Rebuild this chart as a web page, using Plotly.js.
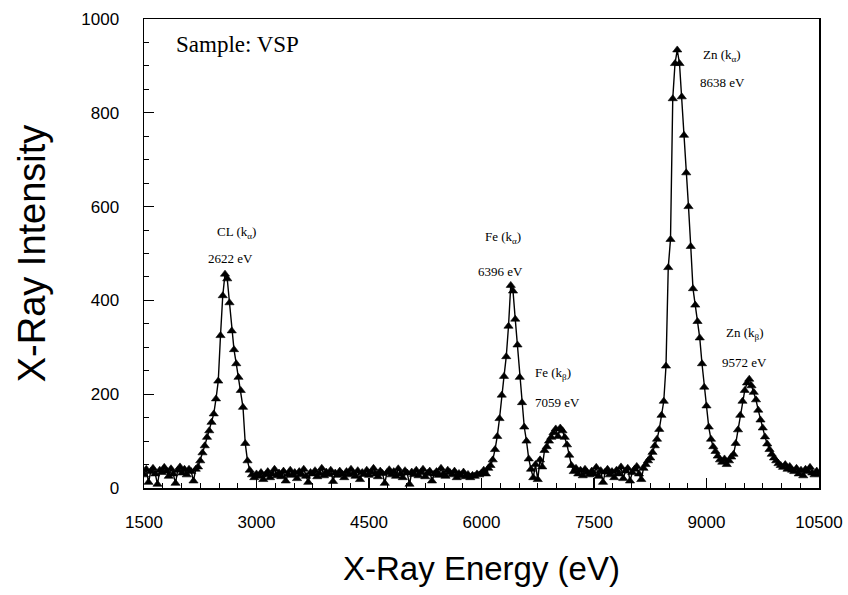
<!DOCTYPE html>
<html>
<head>
<meta charset="utf-8">
<script src="https://cdn.plot.ly/plotly-3.0.1.min.js"></script>
<style>html,body{margin:0;padding:0;background:#fff;}#chart{width:848px;height:595px;}</style>
</head>
<body>
<div id="chart"></div>
<script>
// Channel energies: first channel and channel width (eV)
const channelStart = 1500;
const channelWidth = 30;

// X-ray intensity per channel (1500 ... 10500 eV)
const intensity = [
  28, 40, 12, 35, 42, 30, 8, 38, 33, 44,
  36, 25, 41, 30, 10, 38, 45, 32, 40, 28,
  40, 35, 15, 40, 45, 58, 75, 90, 108, 122,
  140, 158, 190, 228, 325, 410, 456, 446, 395, 335,
  295, 265, 236, 208, 172, 95, 58, 38, 28, 22,
  30, 25, 33, 18, 28, 35, 22, 30, 40, 26,
  32, 24, 36, 15, 29, 38, 27, 33, 20, 35,
  28, 40, 25, 12, 33, 30, 37, 24, 31, 42,
  26, 34, 29, 38, 14, 32, 27, 36, 30, 22,
  35, 28, 40, 31, 25, 37, 18, 33, 29, 38,
  27, 34, 42, 30, 24, 36, 31, 10, 33, 39,
  28, 35, 25, 41, 30, 22, 37, 32, 8, 34,
  29, 38, 26, 33, 40, 24, 31, 36, 15, 30,
  35, 27, 42, 30, 25, 38, 33, 28, 36, 22,
  31, 26, 34, 24, 29, 22, 27, 25, 30, 28,
  32, 38, 30, 42, 48, 60, 82, 110, 148, 198,
  238, 280, 345, 432, 420, 360, 305, 236, 182, 130,
  100, 62, 40, 22, 50, 18, 60, 45, 80, 88,
  100, 108, 118, 126, 110, 128, 122, 108, 92, 70,
  48, 35, 42, 30, 38, 26, 40, 33, 28, 36,
  30, 44, 25, 37, 12, 34, 40, 28, 35, 22,
  38, 30, 45, 20, 36, 42, 15, 33, 40, 46,
  30, 18, 42, 50, 58, 64, 76, 90, 104, 125,
  155, 185, 260, 470, 530, 830, 905, 934, 905, 834,
  752, 672, 600, 515, 425, 390, 355, 320, 265, 215,
  175, 130, 104, 88, 78, 68, 60, 55, 62, 50,
  58, 66, 72, 95, 124, 155, 185, 208, 224, 232,
  218, 204, 188, 166, 145, 128, 109, 94, 82, 72,
  64, 58, 52, 48, 44, 50, 40, 46, 38, 35,
  42, 30, 38, 26, 40, 35, 44, 32, 28, 36, 30
];
const energy = intensity.map((_, i) => channelStart + i * channelWidth);

// Axis ticks
const xTickVals = [1500, 3000, 4500, 6000, 7500, 9000, 10500];
const xTickText = ['1500', '3000', '4500', '6000', '7500', '9000', '10500'];
const yTickVals = [0, 200, 400, 600, 800, 1000];

// Peak labels
const labelNames = ['CL (k<sub>α</sub>)', 'Fe (k<sub>α</sub>)', 'Fe (k<sub>β</sub>)', 'Zn (k<sub>α</sub>)', 'Zn (k<sub>β</sub>)'];
const labelEnergies = ['2622 eV', '6396 eV', '7059 eV', '8638 eV', '9572 eV'];
const nameX = [2727, 6287, 6953, 9207, 9513];
const nameY = [544, 535, 245, 923, 330];
const valueX = [2647, 6247, 7007, 9207, 9513];
const valueY = [490, 461, 183, 864, 267];

const serif = 'Liberation Serif, DejaVu Serif, serif';
const sans = 'Liberation Sans, Arial, sans-serif';

const annotations = [];
labelNames.forEach((t, i) => {
  annotations.push({x: nameX[i], y: nameY[i], xref: 'x', yref: 'y', text: t, showarrow: false,
    font: {family: serif, size: 13, color: '#000'}});
  annotations.push({x: valueX[i], y: valueY[i], xref: 'x', yref: 'y', text: labelEnergies[i], showarrow: false,
    font: {family: serif, size: 13, color: '#000'}});
});
annotations.push({x: 2740, y: 945, xref: 'x', yref: 'y', text: 'Sample: VSP', showarrow: false,
  font: {family: serif, size: 23, color: '#000'}});

const trace = {
  x: energy, y: intensity, type: 'scatter', mode: 'lines+markers',
  line: {color: '#000', width: 1.4},
  marker: {symbol: 'triangle-up', size: 8, color: '#000', line: {color: '#000', width: 0.6}},
  showlegend: false, cliponaxis: true
};

const layout = {
  width: 848, height: 595,
  margin: {l: 144, r: 29, t: 19, b: 107},
  paper_bgcolor: '#fff', plot_bgcolor: '#fff',
  font: {family: sans, color: '#000'},
  xaxis: {
    range: [1500, 10500], tickvals: xTickVals, ticktext: xTickText,
    ticks: 'inside', ticklen: 10, tickwidth: 1.2, tickcolor: '#000',
    minor: {dtick: 250, tick0: 1500, ticks: 'inside', ticklen: 5, tickwidth: 1, tickcolor: '#000', showgrid: false},
    showgrid: false, zeroline: false, showline: true, linecolor: '#000', linewidth: 1.5, mirror: true,
    tickfont: {family: sans, size: 17, color: '#000'}, ticklabelstandoff: 18,
    title: {text: 'X-Ray Energy (eV)', font: {family: sans, size: 33, color: '#000'}, standoff: 26}
  },
  yaxis: {
    range: [0, 1000], tickvals: yTickVals,
    ticks: 'inside', ticklen: 10, tickwidth: 1.2, tickcolor: '#000',
    minor: {dtick: 50, tick0: 0, ticks: 'inside', ticklen: 5, tickwidth: 1, tickcolor: '#000', showgrid: false},
    showgrid: false, zeroline: false, showline: true, linecolor: '#000', linewidth: 1.5, mirror: true,
    tickfont: {family: sans, size: 17, color: '#000'}, ticklabelstandoff: 20,
    title: {text: 'X-Ray Intensity', font: {family: sans, size: 38, color: '#000'}, standoff: 24}
  },
  annotations: annotations
};

Plotly.newPlot('chart', [trace], layout, {displayModeBar: false, staticPlot: true});
</script>
</body>
</html>
